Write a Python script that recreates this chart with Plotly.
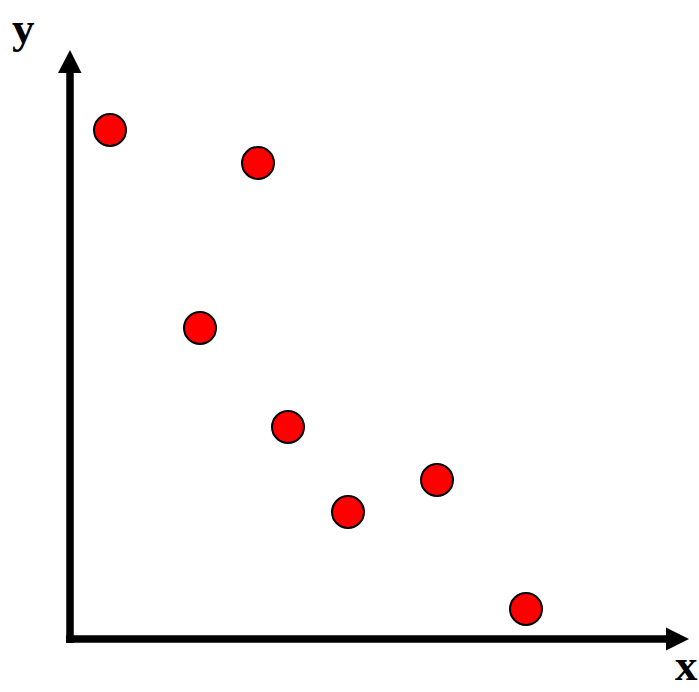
import plotly.graph_objects as go

# scatter points (arbitrary units, origin at the axes corner)
x_vals = [4.0, 18.8, 13.0, 21.8, 27.8, 36.7, 45.6]
y_vals = [50.9, 47.6, 31.1, 21.2, 12.7, 15.9, 3.0]

axis_labels = ["x", "y"]

fig = go.Figure()

fig.add_trace(go.Scatter(
    x=x_vals, y=y_vals, mode="markers",
    marker=dict(size=32, color="#ff0000", line=dict(color="black", width=2)),
    showlegend=False, hoverinfo="skip"))

# axis lines with arrow heads
ax_w = 7.5
fig.add_shape(type="line", x0=0, y0=-0.4, x1=0, y1=56.8,
              line=dict(color="black", width=ax_w), layer="below")
fig.add_shape(type="line", x0=-0.4, y0=0, x1=59.8, y1=0,
              line=dict(color="black", width=ax_w), layer="below")
fig.add_shape(type="path", path="M -1.2 56.6 L 1.15 56.6 L 0 58.9 Z",
              fillcolor="black", line=dict(width=0))
fig.add_shape(type="path", path="M 59.6 1.15 L 59.6 -1.15 L 61.9 0 Z",
              fillcolor="black", line=dict(width=0))

label_font = dict(family="Liberation Serif, Times New Roman, serif", size=45,
                  color="black", weight="bold")
fig.add_annotation(x=-4.7, y=61.1, text="<b>" + axis_labels[1] + "</b>",
                   showarrow=False, font=label_font)
fig.add_annotation(x=61.6, y=-2.6, text="<b>" + axis_labels[0] + "</b>",
                   showarrow=False, font=label_font)

fig.update_xaxes(range=[-7.0, 62.9], visible=False)
fig.update_yaxes(range=[-5.3, 63.9], visible=False)
fig.update_layout(width=699, height=692, margin=dict(l=0, r=0, t=0, b=0),
                  plot_bgcolor="white", paper_bgcolor="white")

fig.write_html("out.html", config={"displayModeBar": False},
               post_script="document.body.style.margin='0';")
